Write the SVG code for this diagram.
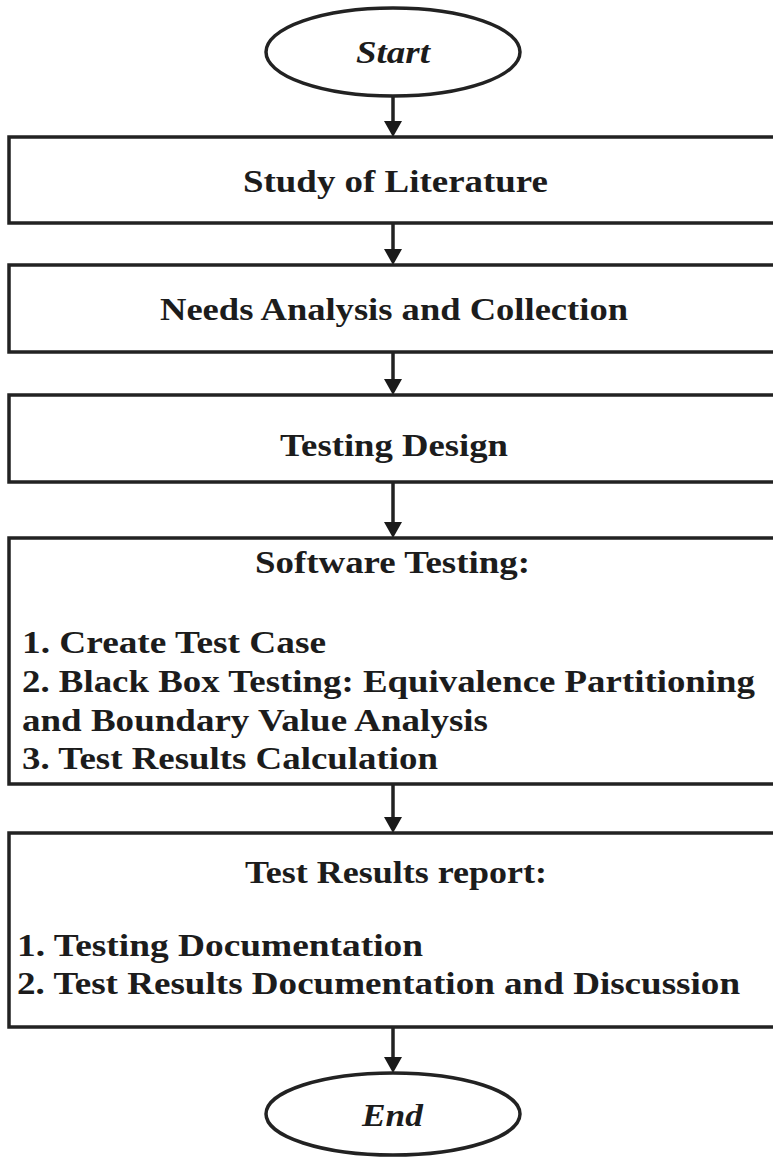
<svg xmlns="http://www.w3.org/2000/svg" width="773" height="1159" viewBox="0 0 773 1159">
<style>
.shape{fill:#fff;stroke:#222;stroke-width:3.5}
.t{font-family:"Liberation Serif","Times New Roman",serif;font-weight:bold;font-size:31px;fill:#1c1c1c}
.c{text-anchor:middle}
.i{font-style:italic}
.conn{stroke:#222;stroke-width:3.5;fill:none}
.head{fill:#1a1a1a}
</style>
<rect width="773" height="1159" fill="#fff"/>
<g id="connectors">
<path class="conn" d="M393,97 L393,123"/><path class="head" d="M384,121 L402,121 L393,137 z"/>
<path class="conn" d="M393,223 L393,251"/><path class="head" d="M384,249 L402,249 L393,265 z"/>
<path class="conn" d="M393,352 L393,381"/><path class="head" d="M384,379 L402,379 L393,395 z"/>
<path class="conn" d="M393,482 L393,524"/><path class="head" d="M384,522 L402,522 L393,538 z"/>
<path class="conn" d="M393,784 L393,819"/><path class="head" d="M384,817 L402,817 L393,833 z"/>
<path class="conn" d="M393,1027 L393,1059"/><path class="head" d="M384,1057 L402,1057 L393,1073 z"/>
</g>
<g id="start">
<ellipse class="shape" cx="393" cy="52" rx="127" ry="44"/>
<text class="t c i" x="393" y="63" font-size="32" textLength="74" lengthAdjust="spacingAndGlyphs">Start</text>
</g>
<g id="study">
<rect class="shape" x="9" y="137" width="790" height="86"/>
<text class="t c" x="395.5" y="192" textLength="305" lengthAdjust="spacingAndGlyphs">Study of Literature</text>
</g>
<g id="needs">
<rect class="shape" x="9" y="265" width="790" height="87"/>
<text class="t c" x="394" y="320" textLength="468" lengthAdjust="spacingAndGlyphs">Needs Analysis and Collection</text>
</g>
<g id="design">
<rect class="shape" x="9" y="395" width="790" height="87"/>
<text class="t c" x="394" y="456" textLength="228" lengthAdjust="spacingAndGlyphs">Testing Design</text>
</g>
<g id="software">
<rect class="shape" x="9" y="538" width="790" height="246"/>
<text class="t c" x="392.5" y="573" textLength="275" lengthAdjust="spacingAndGlyphs">Software Testing:</text>
<text class="t" x="22" y="653" textLength="304" lengthAdjust="spacingAndGlyphs">1. Create Test Case</text>
<text class="t" x="22" y="692" textLength="733" lengthAdjust="spacingAndGlyphs">2. Black Box Testing: Equivalence Partitioning</text>
<text class="t" x="22" y="731" textLength="466" lengthAdjust="spacingAndGlyphs">and Boundary Value Analysis</text>
<text class="t" x="22" y="769" textLength="416" lengthAdjust="spacingAndGlyphs">3. Test Results Calculation</text>
</g>
<g id="report">
<rect class="shape" x="9" y="833" width="790" height="194"/>
<text class="t c" x="396" y="883" textLength="302" lengthAdjust="spacingAndGlyphs">Test Results report:</text>
<text class="t" x="17" y="956" textLength="406" lengthAdjust="spacingAndGlyphs">1. Testing Documentation</text>
<text class="t" x="17" y="994" textLength="723" lengthAdjust="spacingAndGlyphs">2. Test Results Documentation and Discussion</text>
</g>
<g id="end">
<ellipse class="shape" cx="393" cy="1114" rx="127" ry="41"/>
<text class="t c i" x="392.5" y="1126" font-size="32" textLength="61" lengthAdjust="spacingAndGlyphs">End</text>
</g>
</svg>
